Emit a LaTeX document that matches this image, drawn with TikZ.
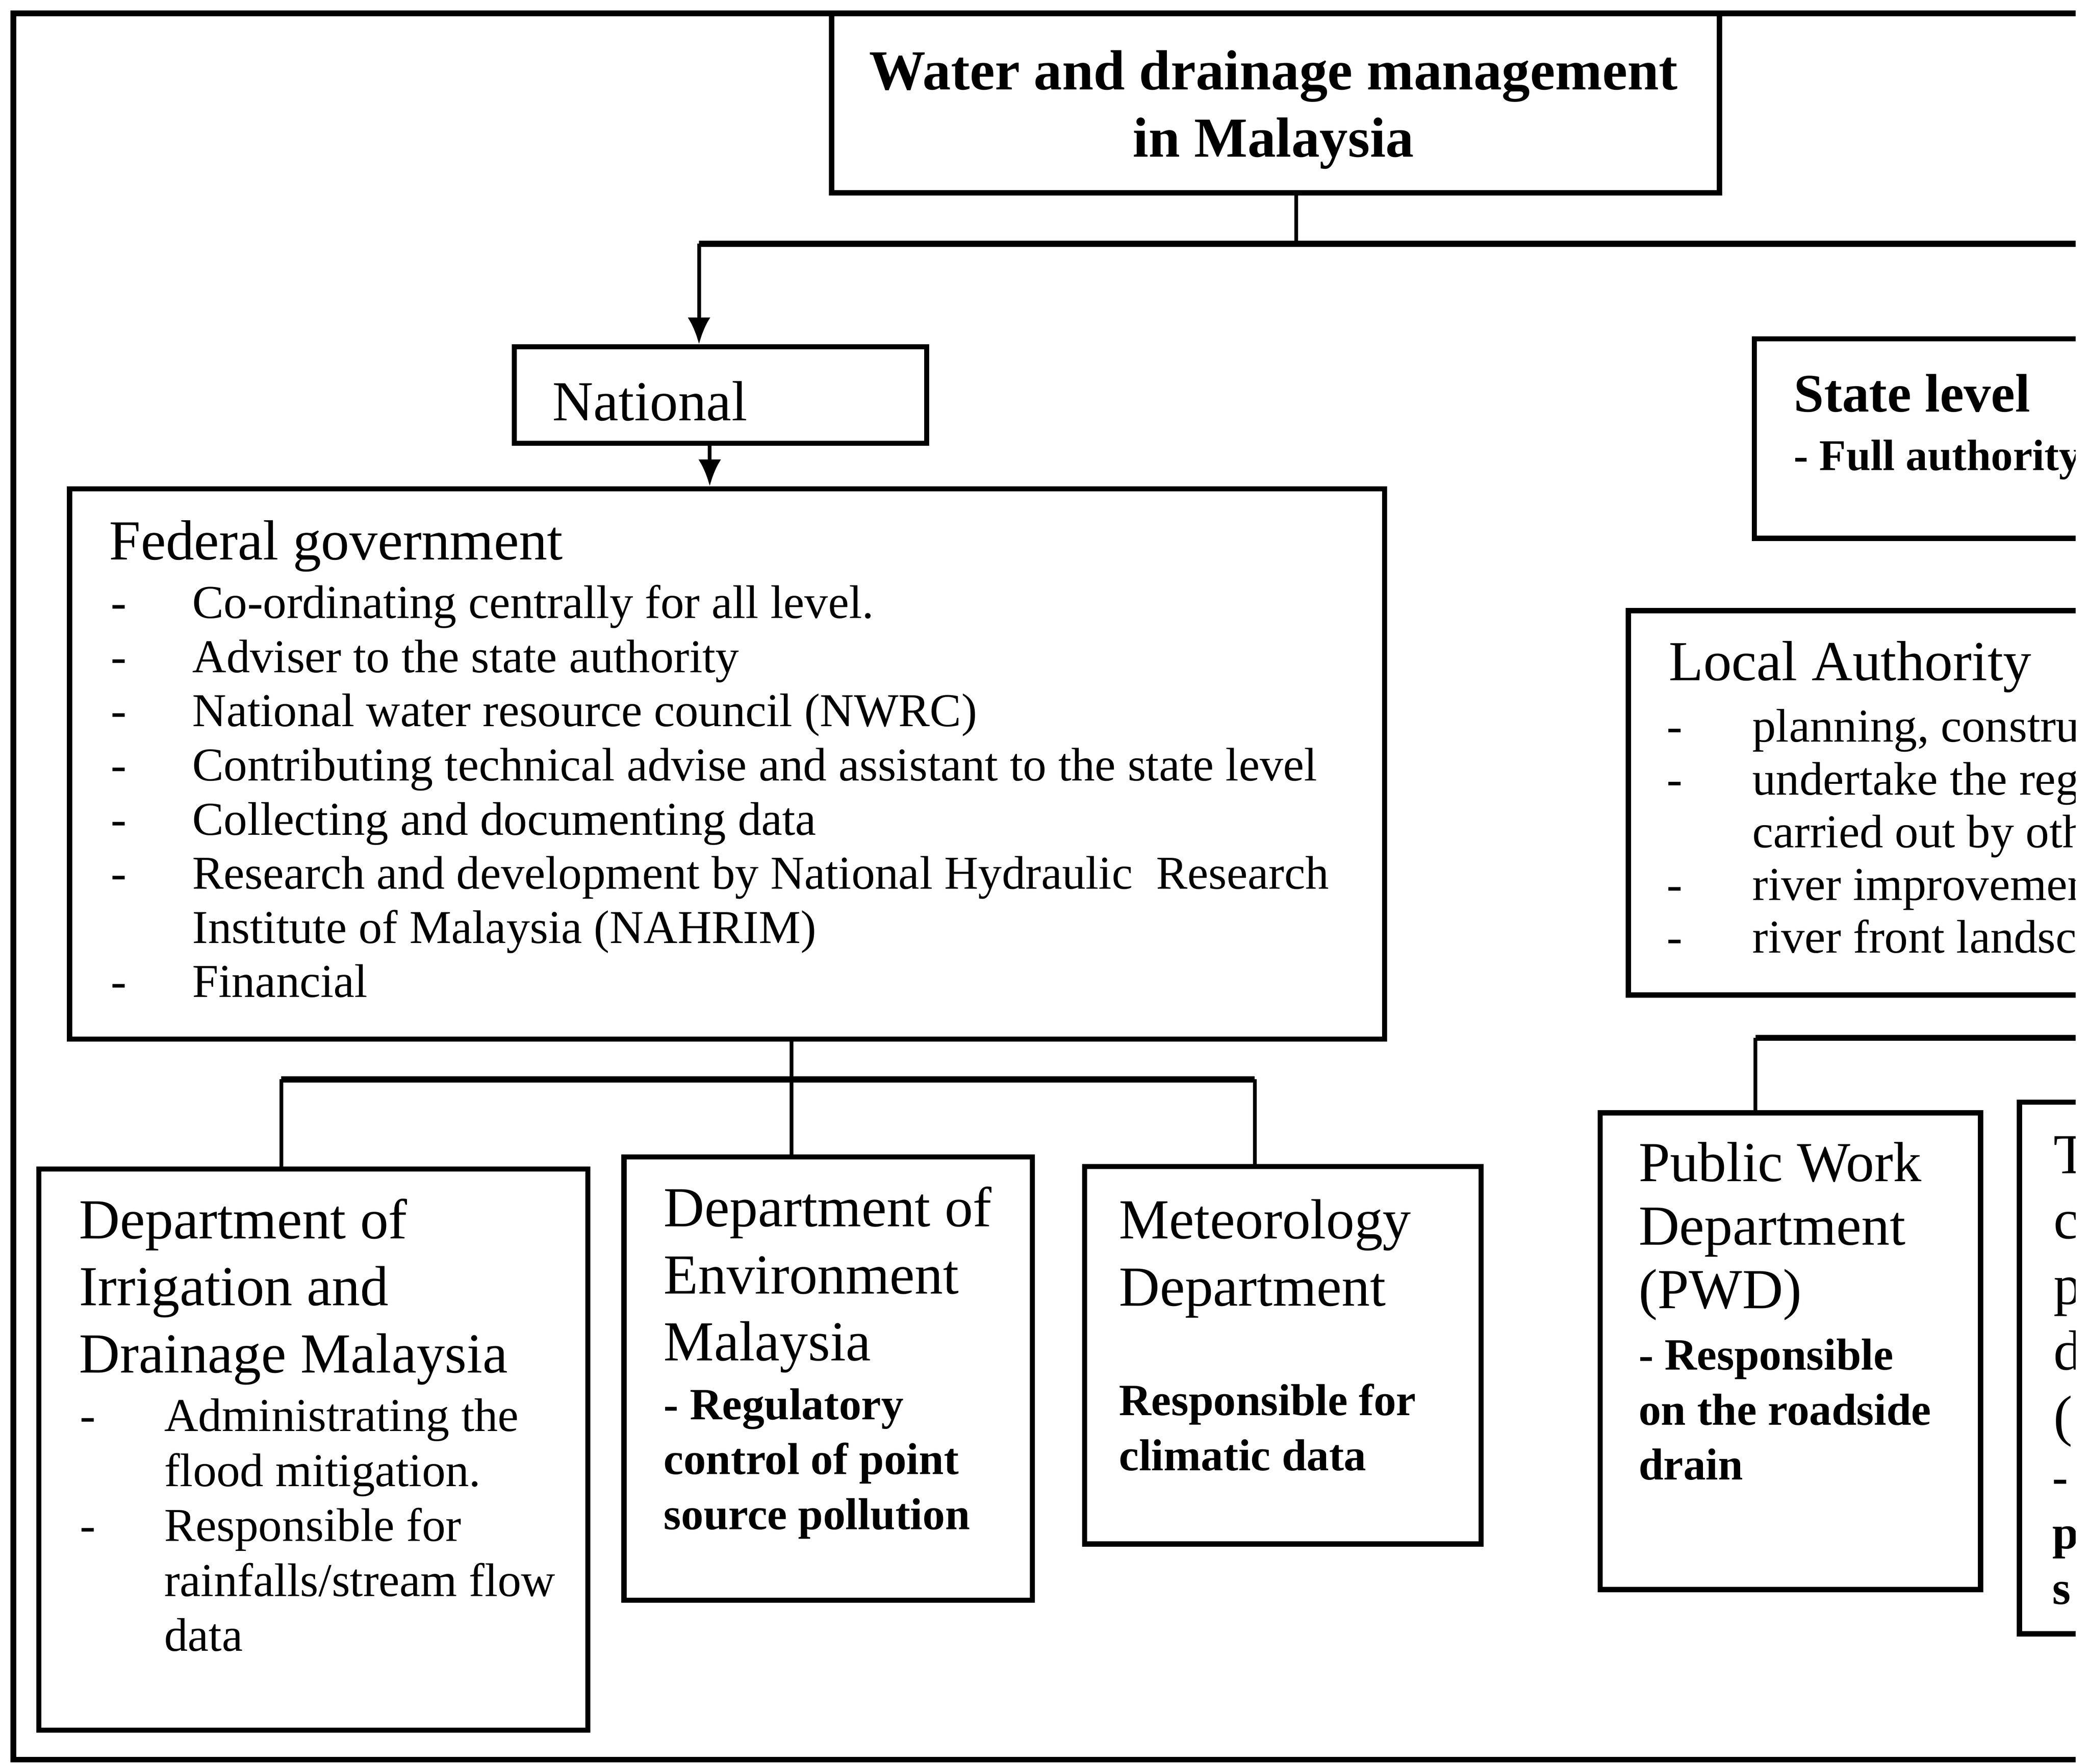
\documentclass[tikz,border=0pt]{standalone}
\usepackage{fontspec}
\setmainfont{Liberation Serif}
\usetikzlibrary{fit,arrows.meta}
\newcommand\fhead{\fontsize{12}{14.23}\selectfont}
\newcommand\fbody{\fontsize{10}{11.5}\selectfont}
\newcommand\fbbody{\fontsize{9.5}{11.67}\selectfont\bfseries}
\begin{document}
\begin{tikzpicture}[x=0.01cm,y=-0.01cm]
\tikzset{
  box/.style={draw, line width=1.1pt, inner sep=0pt},
  txt/.style={anchor=base west, inner sep=0pt, align=left},
  conn/.style={line width=0.8pt},
  hconn/.style={line width=1.3pt},
  arr/.style={conn, -{Latex[length=0.2cm,width=0.17cm]}},
}
\useasboundingbox (0,0) rectangle (1560,1317);
\begin{scope}
\clip (0,0) rectangle (1550,1317);
% frame
\draw[line width=1.2pt] (1600,10) -- (10,10) -- (10,1314) -- (1600,1314);
% boxes
\node[box, fit={(621,10) (1284,144)}] (title) {};
\node[box, fit={(384,259) (692,331)}] (nat) {};
\node[box, fit={(52,365) (1034,776)}] (fed) {};
\node[box, fit={(29,873) (439,1292)}] (did) {};
\node[box, fit={(466,864) (771,1195)}] (doe) {};
\node[box, fit={(810,871) (1106,1153)}] (met) {};
\node[box, fit={(1310,253) (1600,402)}] (state) {};
\node[box, fit={(1216,456) (1600,743)}] (local) {};
\node[box, fit={(1195,831) (1479,1187)}] (pwd) {};
\node[box, fit={(1508,823) (1600,1220)}] (cut) {};
% texts (multi-line nodes are placed by the baseline of their last line)
\node[anchor=base, inner sep=0pt, align=center, font=\fhead\bfseries] (ttitle) at (951,117)
  {Water and drainage management\\in Malaysia};
\node[txt, font=\fhead] (tnat) at (412,314) {National};
\node[txt, font=\fhead] (tfedh) at (81,418) {Federal government};
\node[txt, font=\fbody] (tfedl) at (82,744.7) {%
\makebox[0.61cm][l]{-}Co-ordinating centrally for all level.\\
\makebox[0.61cm][l]{-}Adviser to the state authority\\
\makebox[0.61cm][l]{-}National water resource council (NWRC)\\
\makebox[0.61cm][l]{-}Contributing technical advise and assistant to the state level\\
\makebox[0.61cm][l]{-}Collecting and documenting data\\
\makebox[0.61cm][l]{-}Research and development by National Hydraulic\ \ Research\\
\hspace*{0.61cm}Institute of Malaysia (NAHRIM)\\
\makebox[0.61cm][l]{-}Financial};
\node[txt, font=\fhead] (tdidh) at (58.5,1025) {Department of\\Irrigation and\\Drainage Malaysia};
\node[txt, font=\fontsize{10}{11.67}\selectfont] (tdidl) at (59,1233) {%
\makebox[0.63cm][l]{-}Administrating the\\
\hspace*{0.63cm}flood mitigation.\\
\makebox[0.63cm][l]{-}Responsible for\\
\hspace*{0.63cm}rainfalls/stream flow\\
\hspace*{0.63cm}data};
\node[txt, font=\fhead] (tdoeh) at (495,1016) {Department of\\Environment\\Malaysia};
\node[txt, font=\fbbody] (tdoel) at (495,1142) {- Regulatory\\control of point\\source pollution};
\node[txt, font=\fhead] (tmeth) at (835,975) {Meteorology\\Department};
\node[txt, font=\fbbody] (tmetl) at (835,1098) {Responsible for\\climatic data};
\node[txt, font=\fontsize{11.5}{13}\selectfont\bfseries] (tstateh) at (1339,307.6) {State level};
\node[txt, font=\fontsize{9.3}{11}\selectfont\bfseries] (tstatel) at (1339,351) {- Full authority};
\node[txt, font=\fhead] (tlocalh) at (1245.6,508) {Local Authority};
\node[txt, font=\fontsize{10}{11.2}\selectfont] (tlocall) at (1244,711.6) {%
\makebox[0.64cm][l]{-}planning, construc\\
\makebox[0.64cm][l]{-}undertake the regu\\
\hspace*{0.64cm}carried out by othe\\
\makebox[0.64cm][l]{-}river improvemen\\
\makebox[0.64cm][l]{-}river front landsca};
\node[txt, font=\fontsize{12}{13.5}\selectfont] (tpwdh) at (1223,977) {Public Work\\Department\\(PWD)};
\node[txt, font=\fbbody] (tpwdl) at (1223,1105) {- Responsible\\on the roadside\\drain};
\node[txt, font=\fontsize{12}{13.9}\selectfont] (tcuth) at (1533,1071.6) {T\\c\\p\\d\\(};
\node[txt, font=\fontsize{10}{11.8}\selectfont\bfseries] (tcutl) at (1532,1198) {-\\p\\s};
% connectors
\coordinate (j0) at (968,182);
\coordinate (j1) at (522,182);
\coordinate (jr) at (1600,182);
\coordinate (a1) at (530,331);
\draw[conn] (j0 |- title.south) -- (j0);
\draw[hconn] (j1) -- (jr);
\draw[arr] (j1) -- (j1 |- nat.north);
\draw[arr] (a1 |- nat.south) -- (a1 |- fed.north);
\coordinate (f0) at (591,806);
\coordinate (f1) at (210,806);
\coordinate (f2) at (937,806);
\draw[conn] (f0 |- fed.south) -- (f0 |- doe.north);
\draw[hconn] (f1) -- (f2);
\draw[conn] (f1) -- (f1 |- did.north);
\draw[conn] (f2) -- (f2 |- met.north);
\coordinate (p0) at (1311,775);
\coordinate (pr) at (1600,775);
\draw[hconn] (p0) -- (pr);
\draw[conn] (p0) -- (p0 |- pwd.north);
\end{scope}
\end{tikzpicture}
\end{document}
